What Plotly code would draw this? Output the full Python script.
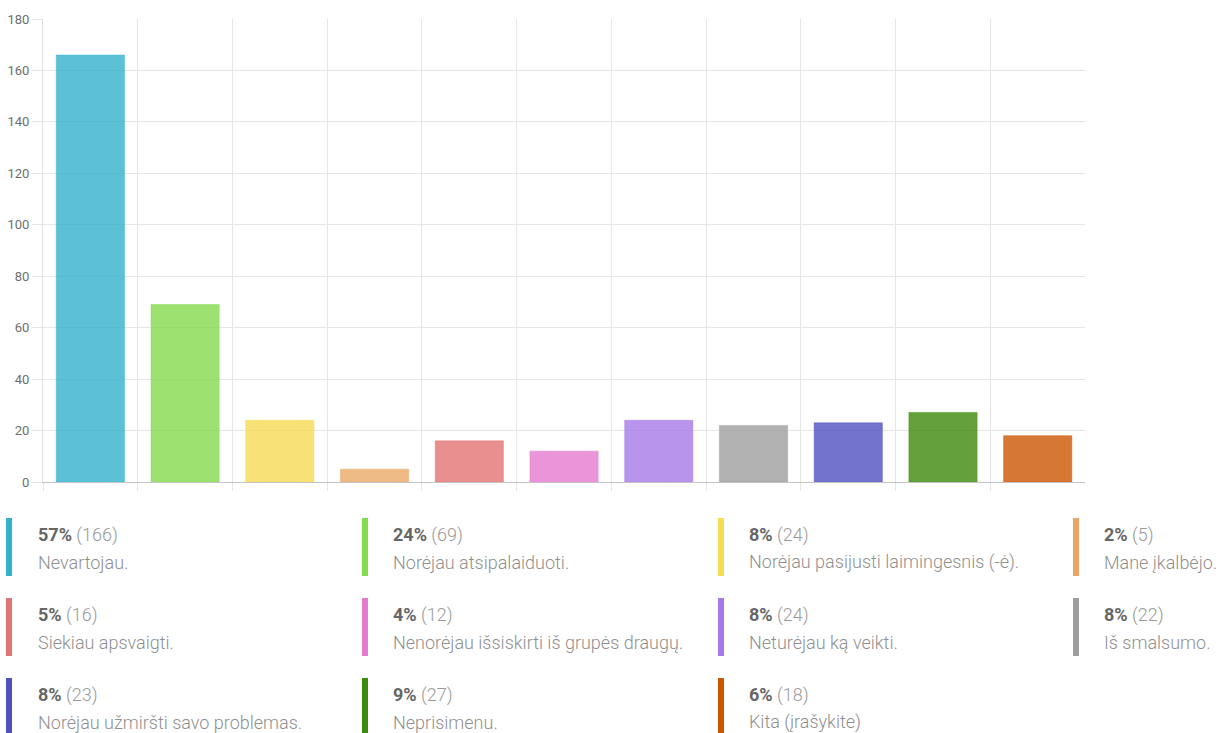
import plotly.graph_objects as go

categories = [
    "Nevartojau.",
    "Norėjau atsipalaiduoti.",
    "Norėjau pasijusti laimingesnis (-ė).",
    "Mane įkalbėjo.",
    "Siekiau apsvaigti.",
    "Nenorėjau išsiskirti iš grupės draugų.",
    "Neturėjau ką veikti.",
    "Iš smalsumo.",
    "Norėjau užmiršti savo problemas.",
    "Neprisimenu.",
    "Kita (įrašykite)",
]
counts = [166, 69, 24, 5, 16, 12, 24, 22, 23, 27, 18]
percents = [57, 24, 8, 2, 5, 4, 8, 8, 8, 9, 6]
colors = ["#33b2cc", "#85db4e", "#f7db52", "#e8a765", "#e57373", "#e57ad0",
          "#a779e9", "#9e9e9e", "#5050c0", "#3c8a0a", "#cc5500"]
y_ticks = [0, 20, 40, 60, 80, 100, 120, 140, 160, 180]


def rgba(h, a):
    h = h.lstrip("#")
    r, g, b = int(h[0:2], 16), int(h[2:4], 16), int(h[4:6], 16)
    return f"rgba({r},{g},{b},{a})"


W, H = 1221, 733
L, R, T, B = 43, 1085, 19, 482
FONT = "Roboto, Arial, sans-serif"

fig = go.Figure()
fig.add_trace(go.Bar(
    x=categories, y=counts,
    marker=dict(color=[rgba(c, 0.8) for c in colors],
                line=dict(color=[rgba(c, 0.45) for c in colors], width=1)),
    hoverinfo="x+y",
))

fig.update_layout(
    width=W, height=H,
    margin=dict(l=L, r=W - R, t=T, b=H - B, pad=0),
    paper_bgcolor="white", plot_bgcolor="white",
    bargap=0.28,
    showlegend=False,
    font=dict(family=FONT, color="#666"),
)
fig.update_xaxes(
    type="category", tickson="boundaries", showgrid=True, gridcolor="#e6e6e6",
    ticks="outside", ticklen=8, tickcolor="#e6e6e6", showticklabels=False,
    showline=True, linecolor="#c4c4c4", linewidth=1, zeroline=False,
    range=[-0.5, 10.499], automargin=False, fixedrange=True,
)
fig.update_yaxes(
    range=[0, 180], tickvals=y_ticks, showgrid=True, gridcolor="#e6e6e6",
    ticks="outside", ticklen=10, tickcolor="#e6e6e6",
    tickfont=dict(size=13, color="#6e6e6e", family=FONT),
    showline=True, linecolor="#e0e0e0", zeroline=False,
    automargin=False, fixedrange=True,
)


def px(x):
    return (x - L) / (R - L)


def py(y):
    return (B - y) / (B - T)


col_bar_x = [6, 362, 718, 1073]
col_text_x = [37, 392, 748, 1103]
row_top = [518, 598, 678]

for i, (cat, n, p, c) in enumerate(zip(categories, counts, percents, colors)):
    r, col = divmod(i, 4)
    top = row_top[r]
    fig.add_shape(type="rect", xref="paper", yref="paper",
                  x0=px(col_bar_x[col]), x1=px(col_bar_x[col] + 6),
                  y0=py(top + 58), y1=py(top),
                  fillcolor=c, line=dict(width=0), layer="above")
    fig.add_annotation(xref="paper", yref="paper",
                       x=px(col_text_x[col] - 1), y=py(top + 17),
                       xanchor="left", yanchor="middle", showarrow=False,
                       text=f"<span style='color:#666'><b>{p}%</b></span> ({n})",
                       font=dict(size=18, color="#999", family=FONT, weight=300))
    fig.add_annotation(xref="paper", yref="paper",
                       x=px(col_text_x[col] - 1), y=py(top + 44),
                       xanchor="left", yanchor="middle", showarrow=False,
                       text=cat,
                       font=dict(size=18, color="#8f8f8f", family=FONT, weight=300))

fig.write_html(
    "out.html",
    config={"displayModeBar": False},
    post_script="document.body.style.margin='0';document.body.style.overflow='hidden';",
)
